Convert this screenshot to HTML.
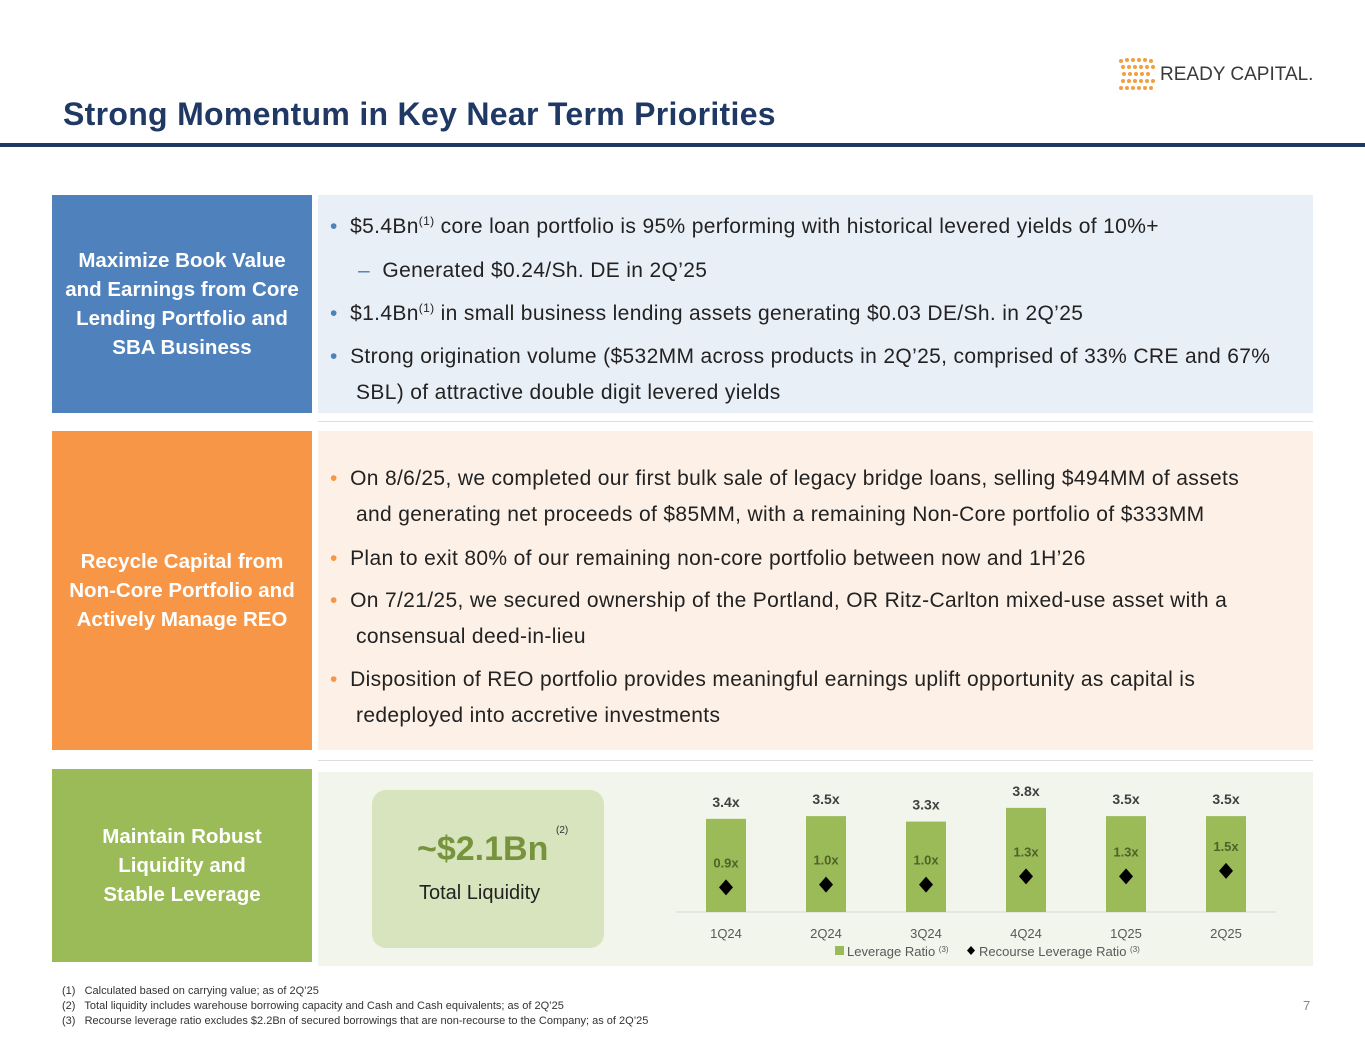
<!DOCTYPE html>
<html><head><meta charset="utf-8"><style>
body{margin:0;width:1365px;height:1055px;background:#fff;font-family:"Liberation Sans",sans-serif;position:relative;overflow:hidden}
.abs{position:absolute}
.lab{position:absolute;color:#fff;font-weight:bold;font-size:20.5px;line-height:29px;text-align:center;display:flex;align-items:center;justify-content:center}
.panel{position:absolute}
.ln{position:absolute;font-size:21px;color:#222;white-space:nowrap;letter-spacing:0.35px}
.b{color:#4f81bd}
.o{color:#f79646}
sup{font-size:12px}
.fn{position:absolute;left:62px;font-size:11px;color:#333;white-space:nowrap}
</style></head><body>
<div class="abs" style="left:1115px;top:55px;width:200px;height:40px">
<svg width="46" height="40">
<g fill="#f0a040">
<circle cx="6" cy="6" r="2"/><circle cx="12" cy="5" r="2"/><circle cx="18" cy="5" r="2"/><circle cx="24" cy="5" r="2"/><circle cx="30" cy="5" r="2"/><circle cx="36" cy="6" r="2"/>
<circle cx="8" cy="12" r="2"/><circle cx="14" cy="12" r="2"/><circle cx="20" cy="12" r="2"/><circle cx="26" cy="12" r="2"/><circle cx="32" cy="12" r="2"/><circle cx="38" cy="12" r="2"/>
<circle cx="9" cy="19" r="2"/><circle cx="15" cy="19" r="2"/><circle cx="21" cy="19" r="2"/><circle cx="27" cy="19" r="2"/><circle cx="33" cy="19" r="2"/>
<circle cx="8" cy="26" r="2"/><circle cx="14" cy="26" r="2"/><circle cx="20" cy="26" r="2"/><circle cx="26" cy="26" r="2"/><circle cx="32" cy="26" r="2"/><circle cx="38" cy="26" r="2"/>
<circle cx="6" cy="33" r="2"/><circle cx="12" cy="33" r="2"/><circle cx="18" cy="33" r="2"/><circle cx="24" cy="33" r="2"/><circle cx="30" cy="33" r="2"/><circle cx="36" cy="33" r="2"/>
</g></svg>
<span class="abs" style="left:45px;top:9px;font-size:19px;color:#3a3a3a;white-space:nowrap">READY CAPITAL.</span>
</div>
<div class="abs" style="left:63px;top:96px;font-size:32px;font-weight:bold;color:#1f3864;white-space:nowrap;letter-spacing:0.3px">Strong Momentum in Key Near Term Priorities</div>
<div class="abs" style="left:0;top:143px;width:1365px;height:4px;background:#1f3864"></div>

<div class="lab" style="left:52px;top:195px;width:260px;height:218px;background:#4f81bd">Maximize Book Value<br>and Earnings from Core<br>Lending Portfolio and<br>SBA Business</div>
<div class="panel" style="left:318px;top:195px;width:995px;height:218px;background:#e9eff7">
<div class="ln" style="left:12px;top:19px"><span class="b">•</span>&nbsp; $5.4Bn<sup>(1)</sup> core loan portfolio is 95% performing with historical levered yields of 10%+</div>
<div class="ln" style="left:40px;top:64px"><span class="b">–</span>&nbsp; Generated $0.24/Sh. DE in 2Q’25</div>
<div class="ln" style="left:12px;top:106px"><span class="b">•</span>&nbsp; $1.4Bn<sup>(1)</sup> in small business lending assets generating $0.03 DE/Sh. in 2Q’25</div>
<div class="ln" style="left:12px;top:150px"><span class="b">•</span>&nbsp; Strong origination volume ($532MM across products in 2Q’25, comprised of 33% CRE and 67%</div>
<div class="ln" style="left:38px;top:186px">SBL) of attractive double digit levered yields</div>
</div>
<div class="abs" style="left:318px;top:421px;width:995px;height:1px;background:#ddd"></div>

<div class="lab" style="left:52px;top:431px;width:260px;height:319px;background:#f79646">Recycle Capital from<br>Non-Core Portfolio and<br>Actively Manage REO</div>
<div class="panel" style="left:318px;top:431px;width:995px;height:319px;background:#fdf0e6">
<div class="ln" style="left:12px;top:36px"><span class="o">•</span>&nbsp; On 8/6/25, we completed our first bulk sale of legacy bridge loans, selling $494MM of assets</div>
<div class="ln" style="left:38px;top:72px">and generating net proceeds of $85MM, with a remaining Non-Core portfolio of $333MM</div>
<div class="ln" style="left:12px;top:116px"><span class="o">•</span>&nbsp; Plan to exit 80% of our remaining non-core portfolio between now and 1H’26</div>
<div class="ln" style="left:12px;top:158px"><span class="o">•</span>&nbsp; On 7/21/25, we secured ownership of the Portland, OR Ritz-Carlton mixed-use asset with a</div>
<div class="ln" style="left:38px;top:194px">consensual deed-in-lieu</div>
<div class="ln" style="left:12px;top:237px"><span class="o">•</span>&nbsp; Disposition of REO portfolio provides meaningful earnings uplift opportunity as capital is</div>
<div class="ln" style="left:38px;top:273px">redeployed into accretive investments</div>
</div>
<div class="abs" style="left:318px;top:760px;width:995px;height:1px;background:#ddd"></div>

<div class="lab" style="left:52px;top:769px;width:260px;height:193px;background:#9bbb59">Maintain Robust<br>Liquidity and<br>Stable Leverage</div>
<div class="panel" style="left:318px;top:772px;width:995px;height:194px;background:#f1f5ec"></div>
<div class="abs" style="left:372px;top:790px;width:232px;height:158px;background:#d7e4bd;border-radius:14px">
<div class="abs" style="left:45px;top:40px;font-size:34px;font-weight:bold;color:#77933c;white-space:nowrap">~$2.1Bn</div>
<div class="abs" style="left:184px;top:35px;font-size:10px;color:#333">(2)</div>
<div class="abs" style="left:47px;top:92px;font-size:20px;color:#222;white-space:nowrap">Total Liquidity</div>
</div>

<svg class="abs" style="left:0;top:0" width="1365" height="1055" id="chart"></svg>

<div class="fn" style="top:985px">(1)&nbsp;&nbsp; Calculated based on carrying value; as of 2Q’25</div>
<div class="fn" style="top:1000px">(2)&nbsp;&nbsp; Total liquidity includes warehouse borrowing capacity and Cash and Cash equivalents; as of 2Q’25</div>
<div class="fn" style="top:1015px">(3)&nbsp;&nbsp; Recourse leverage ratio excludes $2.2Bn of secured borrowings that are non-recourse to the Company; as of 2Q’25</div>
<div class="abs" style="left:1303px;top:998px;font-size:13px;color:#888">7</div>

<script>
const categories=["1Q24","2Q24","3Q24","4Q24","1Q25","2Q25"];
const leverage=[3.4,3.5,3.3,3.8,3.5,3.5];
const recourse=[0.9,1.0,1.0,1.3,1.3,1.5];
const NS="http://www.w3.org/2000/svg";
const svg=document.getElementById('chart');
const x0=726,step=100,base=912,k=27.4,bw=40;
const xs=i=>x0+i*step;
const ys=v=>base-v*k;
function mk(t,a){const e=document.createElementNS(NS,t);for(const p in a)e.setAttribute(p,a[p]);svg.appendChild(e);return e;}
const ax=mk('line',{x1:676,x2:1276,y1:base,y2:base,stroke:'#d9d9d9','stroke-width':1});


categories.forEach((c,i)=>{
 const cx=xs(i);
 const r=mk('rect',{x:cx-bw/2,y:ys(leverage[i]),width:bw,height:leverage[i]*k,fill:'#9bbb59'});
 
 
 const t=mk('text',{x:cx,y:ys(leverage[i])-12,'text-anchor':'middle','font-size':14,'font-weight':'bold',fill:'#404040','font-family':'Liberation Sans'});
 t.textContent=leverage[i].toFixed(1)+'x';
 
 
 const dy=ys(recourse[i]);
 const d=mk('path',{d:`M${cx} ${dy-8}L${cx+7} ${dy}L${cx} ${dy+8}L${cx-7} ${dy}Z`,fill:'#000'});
 
 
 const t2=mk('text',{x:cx,y:dy-20,'text-anchor':'middle','font-size':13,'font-weight':'bold',fill:'#4f6228','font-family':'Liberation Sans'});
 t2.textContent=recourse[i].toFixed(1)+'x';
 
 
 const tl=mk('text',{x:cx,y:base+26,'text-anchor':'middle','font-size':13,fill:'#595959','font-family':'Liberation Sans'});
 tl.textContent=c;
 
 
});
const l1=mk('rect',{x:835,y:946,width:9,height:9,fill:'#9bbb59'});


const lt=mk('text',{x:847,y:956,'font-size':13,fill:'#595959','font-family':'Liberation Sans'});
lt.innerHTML='Leverage Ratio <tspan font-size="8" dy="-4">(3)</tspan>';


const l2=mk('path',{d:'M971 946L975 950.5L971 955L967 950.5Z',fill:'#000'});


const lt2=mk('text',{x:979,y:956,'font-size':13,fill:'#595959','font-family':'Liberation Sans'});
lt2.innerHTML='Recourse Leverage Ratio <tspan font-size="8" dy="-4">(3)</tspan>';


</script>
</body></html>
